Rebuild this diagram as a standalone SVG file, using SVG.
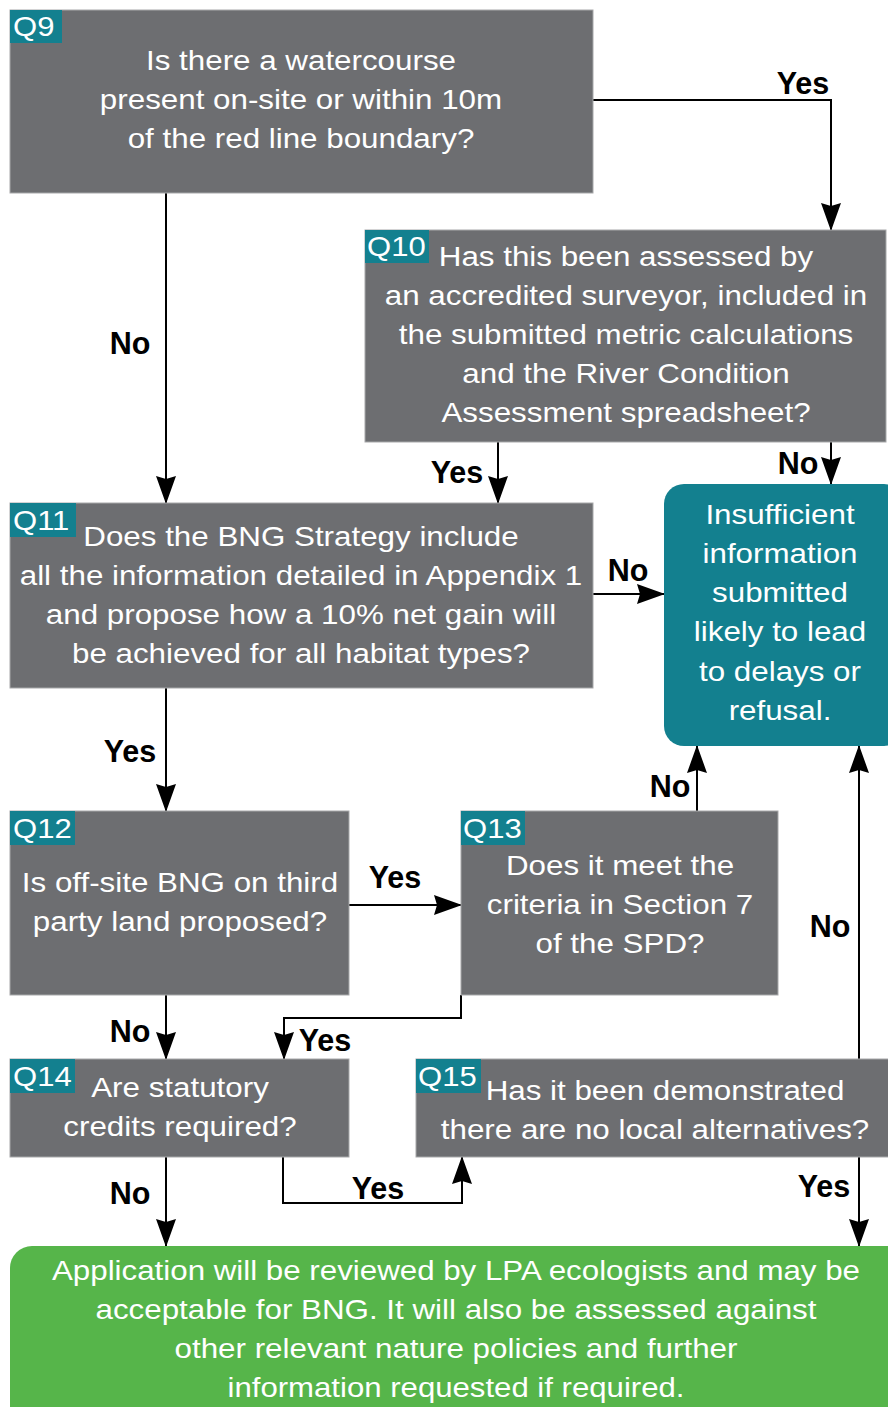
<svg xmlns="http://www.w3.org/2000/svg" width="888" height="1407" viewBox="0 0 888 1407">
  <style>
    .q { fill: #6d6e71; stroke: #a7a8aa; stroke-width: 1; }
    .tag { fill: #13808f; }
    .tagt { font-family: "Liberation Sans", Arial, sans-serif; font-size: 27px; fill: #ffffff; }
    .t { font-family: "Liberation Sans", Arial, sans-serif; font-size: 27.5px; fill: #ffffff; text-anchor: middle; }
    .lbl { font-family: "Liberation Sans", Arial, sans-serif; font-size: 30.5px; font-weight: bold; fill: #000000; text-anchor: middle; }
    .c { fill: none; stroke: #000000; stroke-width: 2; marker-end: url(#arrow); }
  </style>
  <defs>
    <marker id="arrow" markerUnits="userSpaceOnUse" markerWidth="30" markerHeight="24" viewBox="0 -12 28 24" refX="27" refY="0" orient="auto">
      <path d="M0,-10 L28,0 L0,10 L3,0 z" fill="#000000"/>
    </marker>
  </defs>
  <rect width="888" height="1407" fill="#ffffff"/>

  <!-- connectors -->
  <g id="connectors">
    <polyline class="c" points="593,100 831,100 831,230"/>
    <polyline class="c" points="166,193 166,503"/>
    <polyline class="c" points="498,442 498,503"/>
    <polyline class="c" points="831,442 831,484"/>
    <polyline class="c" points="593,594 664,594"/>
    <polyline class="c" points="166,688 166,811"/>
    <polyline class="c" points="349,905 461,905"/>
    <polyline class="c" points="166,995 166,1059"/>
    <polyline class="c" points="697,811 697,746"/>
    <polyline class="c" points="461,995 461,1018 284,1018 284,1059"/>
    <polyline class="c" points="859,1059 859,746"/>
    <polyline class="c" points="166,1157 166,1246"/>
    <polyline class="c" points="283,1157 283,1203 462,1203 462,1157"/>
    <polyline class="c" points="859,1157 859,1246"/>

    <text class="lbl" x="803" y="94">Yes</text>
    <text class="lbl" x="130" y="354">No</text>
    <text class="lbl" x="457" y="483">Yes</text>
    <text class="lbl" x="798" y="474">No</text>
    <text class="lbl" x="628" y="581">No</text>
    <text class="lbl" x="130" y="762">Yes</text>
    <text class="lbl" x="395" y="888">Yes</text>
    <text class="lbl" x="130" y="1042">No</text>
    <text class="lbl" x="670" y="797">No</text>
    <text class="lbl" x="325" y="1051">Yes</text>
    <text class="lbl" x="830" y="937">No</text>
    <text class="lbl" x="130" y="1204">No</text>
    <text class="lbl" x="378" y="1199">Yes</text>
    <text class="lbl" x="824" y="1197">Yes</text>
  </g>

  <g id="q9">
    <rect class="q" x="10" y="10" width="583" height="183"/>
    <rect class="tag" x="10" y="10" width="52" height="33"/>
    <text class="tagt" transform="translate(13 36) scale(1.15 1)">Q9</text>
    <g transform="translate(301 0) scale(1.14 1)">
      <text class="t" x="0" y="70">Is there a watercourse</text>
      <text class="t" x="0" y="109">present on-site or within 10m</text>
      <text class="t" x="0" y="148">of the red line boundary?</text>
    </g>
  </g>

  <g id="q10">
    <rect class="q" x="365" y="230" width="521" height="212"/>
    <rect class="tag" x="365" y="230" width="64" height="33"/>
    <text class="tagt" transform="translate(367 256) scale(1.15 1)">Q10</text>
    <g transform="translate(626 0) scale(1.14 1)">
      <text class="t" x="0" y="266">Has this been assessed by</text>
      <text class="t" x="0" y="305">an accredited surveyor, included in</text>
      <text class="t" x="0" y="344">the submitted metric calculations</text>
      <text class="t" x="0" y="383">and the River Condition</text>
      <text class="t" x="0" y="422">Assessment spreadsheet?</text>
    </g>
  </g>

  <g id="insufficient">
    <rect x="664" y="484" width="240" height="262" rx="20" ry="20" fill="#13808f"/>
    <g transform="translate(780 0) scale(1.14 1)">
      <text class="t" x="0" y="524">Insufficient</text>
      <text class="t" x="0" y="563">information</text>
      <text class="t" x="0" y="602">submitted</text>
      <text class="t" x="0" y="641">likely to lead</text>
      <text class="t" x="0" y="681">to delays or</text>
      <text class="t" x="0" y="720">refusal.</text>
    </g>
  </g>

  <g id="q11">
    <rect class="q" x="10" y="503" width="583" height="185"/>
    <rect class="tag" x="10" y="503" width="66" height="34"/>
    <text class="tagt" transform="translate(13 530) scale(1.15 1)">Q11</text>
    <g transform="translate(301 0) scale(1.14 1)">
      <text class="t" x="0" y="546">Does the BNG Strategy include</text>
      <text class="t" x="0" y="585">all the information detailed in Appendix 1</text>
      <text class="t" x="0" y="624">and propose how a 10% net gain will</text>
      <text class="t" x="0" y="663">be achieved for all habitat types?</text>
    </g>
  </g>

  <g id="q12">
    <rect class="q" x="10" y="811" width="339" height="184"/>
    <rect class="tag" x="10" y="811" width="65" height="34"/>
    <text class="tagt" transform="translate(13 838) scale(1.15 1)">Q12</text>
    <g transform="translate(180 0) scale(1.14 1)">
      <text class="t" x="0" y="892">Is off-site BNG on third</text>
      <text class="t" x="0" y="931">party land proposed?</text>
    </g>
  </g>

  <g id="q13">
    <rect class="q" x="461" y="811" width="317" height="184"/>
    <rect class="tag" x="461" y="811" width="64" height="34"/>
    <text class="tagt" transform="translate(463 838) scale(1.15 1)">Q13</text>
    <g transform="translate(620 0) scale(1.14 1)">
      <text class="t" x="0" y="875">Does it meet the</text>
      <text class="t" x="0" y="914">criteria in Section 7</text>
      <text class="t" x="0" y="953">of the SPD?</text>
    </g>
  </g>

  <g id="q14">
    <rect class="q" x="10" y="1059" width="339" height="98"/>
    <rect class="tag" x="10" y="1059" width="65" height="34"/>
    <text class="tagt" transform="translate(13 1086) scale(1.15 1)">Q14</text>
    <g transform="translate(180 0) scale(1.14 1)">
      <text class="t" x="0" y="1097">Are statutory</text>
      <text class="t" x="0" y="1136">credits required?</text>
    </g>
  </g>

  <g id="q15">
    <rect class="q" x="416" y="1059" width="480" height="98"/>
    <rect class="tag" x="416" y="1059" width="65" height="34"/>
    <text class="tagt" transform="translate(418 1086) scale(1.15 1)">Q15</text>
    <g transform="translate(655 0) scale(1.14 1)">
      <text class="t" x="8.8" y="1100">Has it been demonstrated</text>
      <text class="t" x="0" y="1139">there are no local alternatives?</text>
    </g>
  </g>

  <g id="outcome">
    <rect x="10" y="1246" width="900" height="190" rx="22" ry="22" fill="#56b54a"/>
    <text class="t" x="456" y="1280" textLength="808" lengthAdjust="spacingAndGlyphs">Application will be reviewed by LPA ecologists and may be</text>
    <text class="t" x="456" y="1319" textLength="721" lengthAdjust="spacingAndGlyphs">acceptable for BNG. It will also be assessed against</text>
    <text class="t" x="456" y="1358" textLength="563" lengthAdjust="spacingAndGlyphs">other relevant nature policies and further</text>
    <text class="t" x="456" y="1397" textLength="457" lengthAdjust="spacingAndGlyphs">information requested if required.</text>
  </g>
</svg>
